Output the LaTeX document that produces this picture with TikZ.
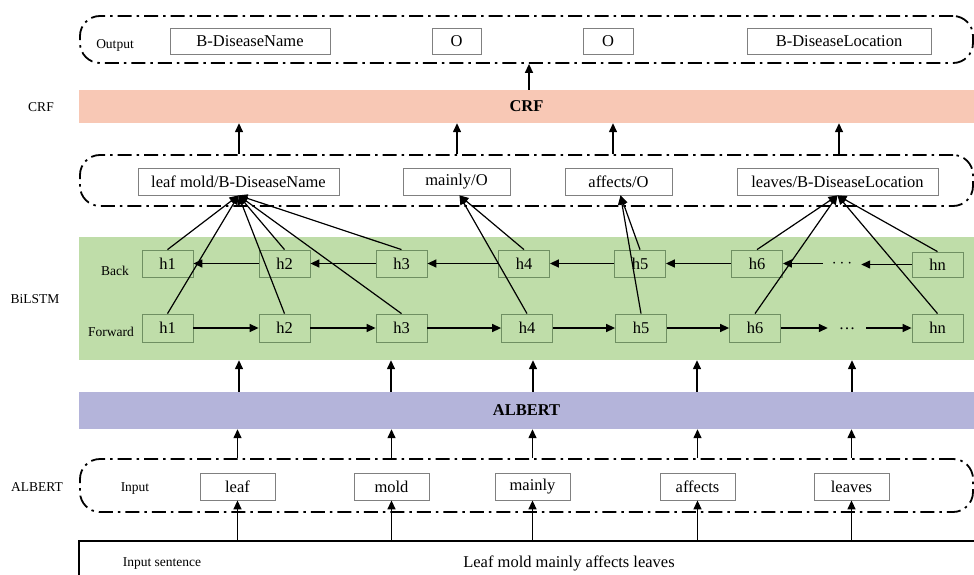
\documentclass[tikz,border=0pt]{standalone}
\usepackage{fontspec}
\setmainfont{Liberation Serif}
\usetikzlibrary{arrows.meta}
\definecolor{crfcol}{HTML}{F8C8B5}
\definecolor{lstmcol}{HTML}{BFDDA9}
\definecolor{albcol}{HTML}{B4B4DA}
\definecolor{boxline}{HTML}{808080}
\definecolor{hline}{HTML}{6F8F62}
\newcommand{\bigtxt}{\fontsize{16.5}{18}\selectfont}
\newcommand{\smalltxt}{\fontsize{13.5}{15}\selectfont}
\tikzset{
  arr/.style={line width=1.4pt, -{Triangle[length=9pt,width=8pt]}},
  link/.style={line width=1.2pt, -{Triangle[length=9pt,width=8pt]}},
  tagbox/.style={draw=boxline, line width=0.8pt, fill=white, minimum height=26pt, inner sep=0pt, font=\bigtxt},
  hbox/.style={draw=hline, line width=0.8pt, minimum width=51pt, minimum height=27pt, inner sep=0pt, font=\bigtxt},
  group/.style={draw, line width=1.8pt, rounded corners=20pt, minimum width=893pt, inner sep=0pt,
     dash pattern=on 14pt off 5pt on 2.5pt off 5pt},
  band/.style={minimum width=895pt, inner sep=0pt, font=\bigtxt\bfseries},
  lbl/.style={font=\smalltxt, inner sep=0pt, anchor=base},
  dots/.style={minimum width=38pt, minimum height=20pt, inner sep=0pt, font=\bigtxt}
}
\begin{document}
\begin{tikzpicture}[x=1pt, y=-1pt]
\useasboundingbox (0,0) rectangle (974,575);

% ---- layers ----
\node[band, fill=lstmcol, minimum height=123pt] (lstm) at (526.5,298.5) {};
\node[band, fill=crfcol, minimum height=33pt] (crf) at (526.5,106.5) {CRF};
\node[band, fill=albcol, minimum height=37pt] (alb) at (526.5,410.5) {ALBERT};

% ---- dashed groups ----
\node[group, minimum height=47pt] (outgrp) at (526.5,39.5) {};
\node[group, minimum height=51pt] (taggrp) at (526.5,180.5) {};
\node[group, minimum height=53pt] (ingrp) at (526.5,485.5) {};

% ---- input sentence ----
\draw[line width=2.4pt] (79,590) -- (79,541) -- (976,541);
\coordinate (sent) at (526.5,541);

% ---- side labels ----
\node[lbl] (lcrf) at (41,112) {CRF};
\node[lbl] (lbil) at (35,303) {BiLSTM};
\node[lbl] (lalb) at (37,491) {ALBERT};
\node[lbl] (lout) at (115,49) {Output};
\node[lbl] (lback) at (115,275) {Back};
\node[lbl] (lfwd) at (111,336) {Forward};
\node[lbl] (lin) at (135,491) {Input};
\node[lbl] (lsent) at (162,566) {Input sentence};
\node[font=\bigtxt, inner sep=0pt, anchor=base] (sentence) at (569,567) {Leaf mold mainly affects leaves};

% ---- output labels ----
\node[tagbox, minimum width=160pt] (o1) at (250,41) {B-DiseaseName};
\node[tagbox, minimum width=49pt] (o2) at (456.5,41) {O};
\node[tagbox, minimum width=50pt] (o3) at (608,41) {O};
\node[tagbox, minimum width=184pt] (o4) at (839,41) {B-DiseaseLocation};

% ---- word/tag boxes ----
\node[tagbox, minimum width=201pt, minimum height=27pt] (t1) at (238.5,181.5) {leaf mold/B-DiseaseName};
\node[tagbox, minimum width=107pt, minimum height=27pt] (t2) at (456.5,181.5) {mainly/O};
\node[tagbox, minimum width=107pt, minimum height=27pt] (t3) at (618.5,181.5) {affects/O};
\node[tagbox, minimum width=201pt, minimum height=27pt] (t4) at (837.5,181.5) {leaves/B-DiseaseLocation};

% ---- input words ----
\node[tagbox, minimum width=75pt, minimum height=27pt] (w1) at (237.5,486.5) {leaf};
\node[tagbox, minimum width=75pt, minimum height=27pt] (w2) at (391.5,486.5) {mold};
\node[tagbox, minimum width=75pt, minimum height=27pt] (w3) at (532.5,486.5) {mainly};
\node[tagbox, minimum width=75pt, minimum height=27pt] (w4) at (697.5,486.5) {affects};
\node[tagbox, minimum width=75pt, minimum height=27pt] (w5) at (851.5,486.5) {leaves};

% ---- backward LSTM cells ----
\node[hbox] (b1) at (167.5,263.5) {h1};
\node[hbox] (b2) at (284.5,263.5) {h2};
\node[hbox] (b3) at (401.5,263.5) {h3};
\node[hbox] (b4) at (524,263.5) {h4};
\node[hbox] (b5) at (640,263.5) {h5};
\node[hbox] (b6) at (757,263.5) {h6};
\node[dots] (bd) at (842,263.5) {$\cdots$};
\node[hbox, minimum height=25pt] (bn) at (937.5,264.5) {hn};

% ---- forward LSTM cells ----
\node[hbox, minimum height=28pt] (f1) at (167.5,328) {h1};
\node[hbox, minimum height=28pt] (f2) at (284.5,328) {h2};
\node[hbox, minimum height=28pt] (f3) at (401.5,328) {h3};
\node[hbox, minimum height=28pt] (f4) at (527,328) {h4};
\node[hbox, minimum height=28pt] (f5) at (641,328) {h5};
\node[hbox, minimum height=28pt] (f6) at (755,328) {h6};
\node[dots] (fd) at (847,328) {\raisebox{-4pt}{\dots}};
\node[hbox, minimum height=28pt] (fn) at (937.5,328) {hn};

% ---- recurrent links ----
\foreach \a/\b in {f1/f2,f2/f3,f3/f4,f4/f5,f5/f6,f6/fd,fd/fn}
  \draw[arr] (\a.east) -- (\b.west);
\foreach \a/\b in {bd/b6,b6/b5,b5/b4,b4/b3,b3/b2,b2/b1}
  \draw[arr] (\a.west) -- (\b.east);
\draw[arr] (bn.west) -- (bn.west -| bd.east);

% ---- hidden states to tags ----
\foreach \h in {b1,f1,b2,f2,b3,f3} \draw[link] (\h.north) -- (t1.south);
\foreach \h in {b4,f4} \draw[link] (\h.north) -- ([xshift=3pt]t2.south);
\foreach \h in {b5,f5} \draw[link] (\h.north) -- ([xshift=2pt]t3.south);
\foreach \h in {b6,f6,bn,fn} \draw[link] (\h.north) -- (t4.south);

% ---- tags to CRF, CRF to output ----
\foreach \x in {239,457,613,839}
  \draw[arr] (\x,0 |- taggrp.north) -- (\x,0 |- crf.south);
\draw[arr] (529,0 |- crf.north) -- (529,0 |- outgrp.south);

% ---- ALBERT to BiLSTM ----
\foreach \x in {239,391,533,697,852}
  \draw[arr] (\x,0 |- alb.north) -- (\x,0 |- lstm.south);

% ---- inputs to ALBERT ----
\foreach \w in {w1,w2,w3,w4,w5} {
  \draw[arr] (\w.center |- ingrp.north) -- (\w.center |- alb.south);
  \draw[arr] (\w.center |- sent) -- (\w.south);
}
\end{tikzpicture}
\end{document}
